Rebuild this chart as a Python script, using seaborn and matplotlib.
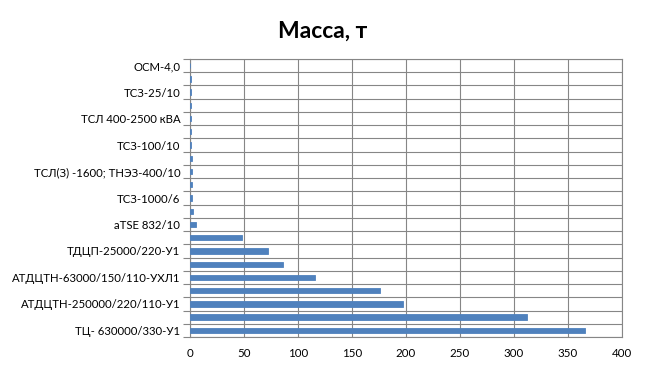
import matplotlib
matplotlib.use("Agg")
import matplotlib.pyplot as plt
import seaborn as sns
import pandas as pd
from matplotlib.ticker import FixedLocator

# Categories top -> bottom (only every other one is labelled in the original)
tick_labels = [
    "ОСМ-4,0", "",
    "ТСЗ-25/10", "",
    "ТСЛ 400-2500 кВА", "",
    "ТСЗ-100/10", "",
    "ТСЛ(З) -1600; ТНЭЗ-400/10", "",
    "ТСЗ-1000/6", "",
    "aTSE 832/10", "",
    "ТДЦП-25000/220-У1", "",
    "АТДЦТН-63000/150/110-УХЛ1", "",
    "АТДЦТН-250000/220/110-У1", "",
    "ТЦ- 630000/330-У1",
]
masses = [0.1, 0.5, 0.5, 0.5, 0.5, 0.5, 0.5, 1.5, 1.5, 1.5, 2.2, 3.1, 5.2,
          47.8, 72.0, 85.8, 115.4, 175.6, 196.9, 312.3, 365.4]
x_ticks = [0, 50, 100, 150, 200, 250, 300, 350, 400]
title = "Масса, т"

sns.set_theme(style="white")
plt.rcParams["font.family"] = ["Lato", "DejaVu Sans"]

df = pd.DataFrame({"row": list(range(len(masses))), "mass": masses})

fig = plt.figure(figsize=(6.46, 3.67), dpi=100)
ax = fig.add_axes([190 / 646, 1 - 337 / 367, (622 - 190) / 646, (337 - 59) / 367])

sns.barplot(data=df, y="row", x="mass", orient="h", color="#4F81BD",
            saturation=1, width=0.4, ax=ax, zorder=3,
            edgecolor="#4F81BD", linewidth=0.6)

grid_c = "#868686"
n = len(masses)
ax.set_xlim(0, 400)
ax.set_ylim(n - 0.5, -0.5)
ax.set_xticks(x_ticks)
ax.set_xticklabels([str(t) for t in x_ticks], fontsize=8.3, color="#000000")
ax.set_yticks(range(n))
ax.set_yticklabels(tick_labels, fontsize=8.2, color="#000000")
ax.tick_params(axis="y", which="major", length=0, pad=7)
ax.tick_params(axis="x", which="major", length=0, pad=8)
ax.xaxis.grid(True, which="major", color=grid_c, linewidth=0.8)
# category boundary lines and outside tick marks (Excel style)
bounds = [i - 0.5 for i in range(n + 1)]
ax.hlines(bounds, 0, 400, colors=grid_c, linewidths=0.8, zorder=1.5)
ax.yaxis.set_minor_locator(FixedLocator(bounds))
ax.tick_params(axis="y", which="minor", length=5, color=grid_c, width=0.8, left=True)
for s in ax.spines.values():
    s.set_color(grid_c)
    s.set_linewidth(0.8)
ax.set_xlabel("")
ax.set_ylabel("")

fig.text(0.5, 1 - 31 / 367, title, ha="center", va="center",
         fontsize=16.5, fontweight="bold", color="#000000")

fig.savefig("out.png", dpi=100, facecolor="white")
